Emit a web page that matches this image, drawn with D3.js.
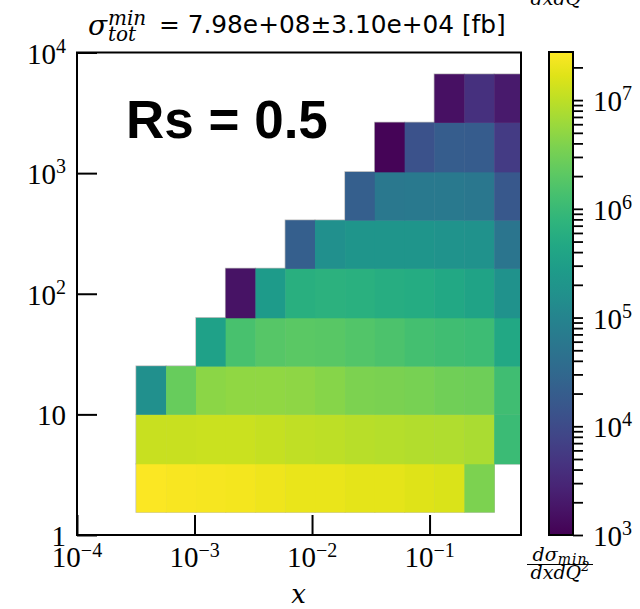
<!DOCTYPE html>
<html><head><meta charset="utf-8">
<script src="https://cdn.jsdelivr.net/npm/d3@7"></script>
<style>body{margin:0;background:#fff} svg{display:block}</style>
</head><body>
<svg id="c" width="640" height="609"></svg>
<script>
// ---- data ----
const xEdges = [3.19e-4, 5.73e-4, 1.03e-3, 1.84e-3, 3.30e-3, 5.93e-3, 1.06e-2, 1.91e-2, 3.42e-2, 6.14e-2, 1.10e-1, 1.98e-1, 3.55e-1, 6.36e-1];
const q2Edges = [1.55, 3.89, 10, 25.1, 63.1, 162, 407, 1023, 2630, 6607];
const row0 = [2.6e7, 2.5e7, 2.4e7, 2.3e7, 2.1e7, 2.0e7, 1.95e7, 1.85e7, 1.8e7, 1.7e7, 1.55e7, 3.7e6, null];
const row1 = [1.16e7, 1.18e7, 1.22e7, 1.2e7, 1.12e7, 1.04e7, 9.9e6, 9.4e6, 8.9e6, 8.5e6, 8.1e6, 7.7e6, 1.05e6];
const row2 = [1.66e5, 2.62e6, 4.6e6, 5.1e6, 5.1e6, 4.84e6, 4.37e6, 3.75e6, 3.56e6, 3.39e6, 3.06e6, 2.9e6, 1.22e6];
const row3 = [null, null, 3.4e5, 1.42e6, 1.83e6, 2.03e6, 1.93e6, 1.74e6, 1.5e6, 1.28e6, 1.22e6, 1.1e6, 4.6e5];
const row4 = [null, null, null, 1.67e3, 2.63e5, 6.27e5, 6.95e5, 6.6e5, 5.96e5, 5.38e5, 4.6e5, 3.76e5, 1.75e5];
const row5 = [null, null, null, null, null, 2.15e4, 1.66e5, 2.04e5, 2.1e5, 2.04e5, 1.95e5, 1.8e5, 5.4e4];
const row6 = [null, null, null, null, null, null, null, 2.15e4, 5.97e4, 6.28e4, 6.28e4, 5.8e4, 1.6e4];
const row7 = [null, null, null, null, null, null, null, null, 1.1e3, 1.3e4, 2.0e4, 1.9e4, 6e3];
const row8 = [null, null, null, null, null, null, null, null, null, null, 1.5e3, 4.2e3, 2.05e3];
const rows = [row0, row1, row2, row3, row4, row5, row6, row7, row8];

const xTicks = [1e-4, 1e-3, 1e-2, 1e-1];
const xTickExp = ["\u22124", "\u22123", "\u22122", "\u22121"];
const yTicks = [1, 10, 100, 1000, 10000];
const yTickBase = ["1", "10", "10", "10", "10"];
const yTickExp = ["", "", "2", "3", "4"];
const cbMajor = [1e3, 1e4, 1e5, 1e6, 1e7];
const cbExp = ["3", "4", "5", "6", "7"];
const colorDomain = [1e3, 2.77e7];
const xDomain = [1e-4, 0.6];
const yDomain = [1, 1e4];
const titleText = "= 7.98e+08\u00b13.10e+04 [fb]";
const tagText = "Rs = 0.5";

// ---- drawing ----
const svg = d3.select("#c");
const L = 77, R = 521, T = 52.5, B = 535;
const x = d3.scaleLog().domain(xDomain).range([L, R]);
const y = d3.scaleLog().domain(yDomain).range([B, T]);
const color = d3.scaleSequentialLog(d3.interpolateViridis).domain(colorDomain);

const cells = [];
rows.forEach((row, j) => row.forEach((v, i) => { if (v != null) cells.push({i, j, v}); }));

const defs = svg.append("defs");
defs.append("clipPath").attr("id", "plotclip").append("rect")
  .attr("x", L).attr("y", T).attr("width", R - L).attr("height", B - T);

const g = svg.append("g").attr("clip-path", "url(#plotclip)");
const cx0 = d => x(xEdges[d.i]), cx1 = d => x(xEdges[d.i + 1]);
const cy0 = d => y(q2Edges[d.j + 1]), cy1 = d => y(q2Edges[d.j]);
g.selectAll("rect.o").data(cells).join("rect").attr("class", "o")
  .attr("x", cx0).attr("y", cy0)
  .attr("width", d => cx1(d) - cx0(d)).attr("height", d => cy1(d) - cy0(d))
  .attr("fill", "none").attr("stroke", "#b8b8b8").attr("stroke-width", 1.4);
g.selectAll("rect.f").data(cells).join("rect").attr("class", "f")
  .attr("x", cx0).attr("y", cy0)
  .attr("width", d => cx1(d) - cx0(d) + 0.4).attr("height", d => cy1(d) - cy0(d) + 0.4)
  .attr("fill", d => color(d.v));

// axes ticks (inward)
const xa = svg.append("g").attr("transform", `translate(0,${B})`)
  .call(d3.axisBottom(x).tickValues(xTicks).tickSize(-20).tickFormat(""));
const ya = svg.append("g").attr("transform", `translate(${L},0)`)
  .call(d3.axisLeft(y).tickValues(yTicks).tickSize(-20).tickFormat(""));
[xa, ya].forEach(a => {
  a.select(".domain").remove();
  a.selectAll("line").attr("stroke", "#000").attr("stroke-width", 2);
});

// frame
svg.append("rect").attr("x", L).attr("y", T).attr("width", R - L).attr("height", B - T)
  .attr("fill", "none").attr("stroke", "#000").attr("stroke-width", 2);

const serif = "'Liberation Serif', serif";
// x tick labels
xTicks.forEach((t, k) => {
  const tx = svg.append("text").attr("x", x(t)).attr("y", B + 32)
    .attr("text-anchor", "middle").attr("font-family", serif).attr("font-size", 29);
  tx.append("tspan").text("10");
  tx.append("tspan").attr("font-size", 20).attr("dy", -10).text(xTickExp[k]);
});
// y tick labels
yTicks.forEach((t, k) => {
  const tx = svg.append("text").attr("x", 66).attr("y", y(t) + 11)
    .attr("text-anchor", "end").attr("font-family", serif).attr("font-size", 29);
  tx.append("tspan").text(yTickBase[k]);
  if (yTickExp[k]) tx.append("tspan").attr("font-size", 20).attr("dy", -11).text(yTickExp[k]);
});

// x label
svg.append("text").attr("x", 298.5).attr("y", 603).attr("text-anchor", "middle")
  .attr("font-family", "'DejaVu Serif', serif").attr("font-style", "italic").attr("font-size", 26).text("x");

// title
const mi = "'DejaVu Serif', serif";
svg.append("text").attr("x", 88).attr("y", 35).attr("font-family", mi).attr("font-style", "italic")
  .attr("font-size", 28).text("\u03c3");
svg.append("text").attr("x", 108).attr("y", 25).attr("font-family", mi).attr("font-style", "italic")
  .attr("font-size", 20).text("min");
svg.append("text").attr("x", 108).attr("y", 41).attr("font-family", mi).attr("font-style", "italic")
  .attr("font-size", 20).text("tot");
svg.append("text").attr("x", 159).attr("y", 33).attr("font-family", "'DejaVu Sans', sans-serif")
  .attr("font-size", 24.8).text(titleText);

// Rs tag
svg.append("text").attr("x", 126).attr("y", 138).attr("font-family", "'Liberation Sans', Arial, sans-serif")
  .attr("font-weight", "bold").attr("font-size", 53).text(tagText);

// colorbar
const CB0 = 549, CB1 = 573, CT = 52, CBt = 535;
const cb = d3.scaleLog().domain(colorDomain).range([CBt, CT]);
const grad = defs.append("linearGradient").attr("id", "vir").attr("x1", 0).attr("y1", 1).attr("x2", 0).attr("y2", 0);
d3.range(0, 1.0001, 0.05).forEach(t => grad.append("stop").attr("offset", t).attr("stop-color", d3.interpolateViridis(t)));
svg.append("rect").attr("x", CB0).attr("y", CT).attr("width", CB1 - CB0).attr("height", CBt - CT)
  .attr("fill", "url(#vir)").attr("stroke", "#000").attr("stroke-width", 2);
const cbTicks = cb.ticks().filter(v => v >= colorDomain[0] && v <= colorDomain[1]);
const ca = svg.append("g").attr("transform", `translate(${CB1},0)`)
  .call(d3.axisRight(cb).tickValues(cbTicks).tickSize(10).tickFormat(""));
ca.select(".domain").remove();
ca.selectAll("line").attr("stroke", "#000").attr("stroke-width", 1.8);
cbMajor.forEach((v, k) => {
  const tx = svg.append("text").attr("x", 593).attr("y", cb(v) + 11)
    .attr("font-family", serif).attr("font-size", 29);
  tx.append("tspan").text("10");
  tx.append("tspan").attr("font-size", 20).attr("dy", -11).text(cbExp[k]);
});

// colorbar label (fraction), drawn at bottom and (clipped) at top
function frac(dy) {
  const fg = svg.append("g").attr("transform", `translate(0,${dy})`)
    .attr("font-family", mi).attr("font-style", "italic");
  const n = fg.append("text").attr("x", 560).attr("y", 561).attr("text-anchor", "middle").attr("font-size", 19);
  n.append("tspan").text("d\u03c3");
  n.append("tspan").attr("font-size", 14).attr("dy", 3).attr("letter-spacing", 1).text("min");
  fg.append("line").attr("x1", 527).attr("x2", 593).attr("y1", 564.5).attr("y2", 564.5)
    .attr("stroke", "#000").attr("stroke-width", 1);
  const d = fg.append("text").attr("x", 560).attr("y", 579).attr("text-anchor", "middle").attr("font-size", 19);
  d.append("tspan").text("dxdQ");
  d.append("tspan").attr("font-size", 13).attr("dy", -8).text("2");
}
frac(0);
frac(-574);
</script>
</body></html>
